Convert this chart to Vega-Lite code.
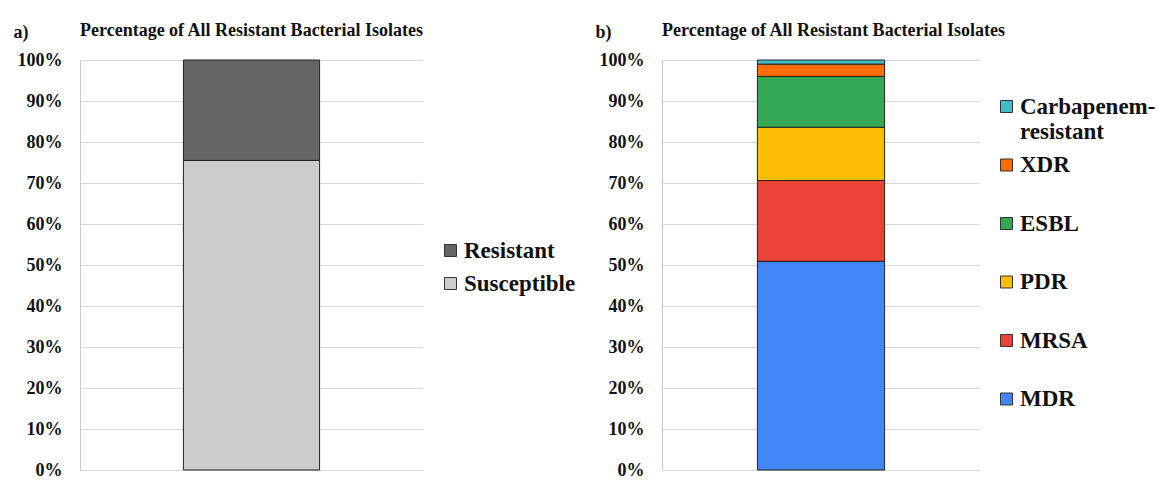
{
  "$schema": "https://vega.github.io/schema/vega-lite/v6.json",
  "padding": {"left": 13, "top": 22, "right": 0, "bottom": 0},
  "background": "white",
  "spacing": 19,
  "config": {
    "font": "Liberation Serif",
    "view": {"stroke": null},
    "axis": {
      "labelFont": "Liberation Serif",
      "labelFontWeight": "bold",
      "labelFontSize": 18,
      "labelColor": "#111111",
      "ticks": false,
      "labelPadding": 18,
      "domainColor": "#c8c8c8",
      "gridColor": "#d9d9d9",
      "titleFont": "Liberation Serif",
      "titleFontWeight": "bold",
      "titleFontSize": 18,
      "titleColor": "#111111"
    },
    "title": {
      "font": "Liberation Serif",
      "fontWeight": "bold",
      "fontSize": 18,
      "color": "#111111",
      "anchor": "start",
      "frame": "group",
      "baseline": "alphabetic",
      "offset": -17
    },
    "legend": {
      "labelFont": "Liberation Serif",
      "labelFontWeight": "bold",
      "labelColor": "#111111",
      "symbolType": "square",
      "symbolSize": 144,
      "symbolStrokeColor": "#333333",
      "symbolStrokeWidth": 1,
      "title": null,
      "padding": 0,
      "labelOffset": 2
    }
  },
  "datasets": {
    "a": [
      {"group": "All", "category": "Susceptible", "pct": 75.5},
      {"group": "All", "category": "Resistant", "pct": 24.5}
    ],
    "b": [
      {"group": "All", "category": "MDR", "pct": 50.9},
      {"group": "All", "category": "MRSA", "pct": 19.7},
      {"group": "All", "category": "PDR", "pct": 13.0},
      {"group": "All", "category": "ESBL", "pct": 12.4},
      {"group": "All", "category": "XDR", "pct": 3.0},
      {"group": "All", "category": "Carbapenem-resistant", "pct": 1.0}
    ]
  },
  "resolve": {"scale": {"color": "independent"}, "legend": {"color": "independent"}},
  "hconcat": [
    {
      "data": {"name": "a"},
      "width": 343,
      "height": 410,
      "title": {"text": "Percentage of All Resistant Bacterial Isolates"},
      "mark": {"type": "bar", "stroke": "#222222", "strokeWidth": 1, "width": {"band": 0.397}},
      "encoding": {
        "x": {"field": "group", "type": "nominal", "axis": null, "scale": {"paddingInner": 0, "paddingOuter": 0}},
        "y": {
          "field": "pct", "type": "quantitative", "stack": "zero",
          "scale": {"domain": [0, 100], "nice": false},
          "axis": {
            "values": [0, 10, 20, 30, 40, 50, 60, 70, 80, 90, 100],
            "labelExpr": "datum.value + '%'",
            "title": "a)", "titleAngle": 0, "titleX": -67, "titleY": -23,
            "titleAlign": "left", "titleBaseline": "alphabetic"
          }
        },
        "color": {
          "field": "category", "type": "nominal",
          "scale": {"domain": ["Resistant", "Susceptible"], "range": ["#666666", "#cccccc"]},
          "legend": {"orient": "none", "legendX": 359, "legendY": 179, "labelFontSize": 23, "rowPadding": 9}
        },
        "order": {"field": "pct", "sort": "descending"}
      }
    },
    {
      "data": {"name": "b"},
      "width": 318,
      "height": 410,
      "title": {"text": "Percentage of All Resistant Bacterial Isolates"},
      "mark": {"type": "bar", "stroke": "#222222", "strokeWidth": 1, "width": {"band": 0.4}},
      "encoding": {
        "x": {"field": "group", "type": "nominal", "axis": null, "scale": {"paddingInner": 0, "paddingOuter": 0}},
        "y": {
          "field": "pct", "type": "quantitative", "stack": "zero",
          "scale": {"domain": [0, 100], "nice": false},
          "axis": {
            "values": [0, 10, 20, 30, 40, 50, 60, 70, 80, 90, 100],
            "labelExpr": "datum.value + '%'",
            "title": "b)", "titleAngle": 0, "titleX": -67, "titleY": -23,
            "titleAlign": "left", "titleBaseline": "alphabetic"
          }
        },
        "color": {
          "field": "category", "type": "nominal",
          "scale": {
            "domain": ["Carbapenem-resistant", "XDR", "ESBL", "PDR", "MRSA", "MDR"],
            "range": ["#46bdc6", "#ff6d01", "#34a853", "#fbbc04", "#ea4335", "#4285f4"]
          },
          "legend": {
            "orient": "none", "legendX": 333, "legendY": 35, "labelFontSize": 23,
            "rowPadding": 9.5, "gridAlign": "all",
            "labelExpr": "datum.label == 'Carbapenem-resistant' ? ['Carbapenem-', 'resistant'] : datum.label"
          }
        },
        "order": {"field": "pct", "sort": "descending"}
      }
    }
  ]
}
